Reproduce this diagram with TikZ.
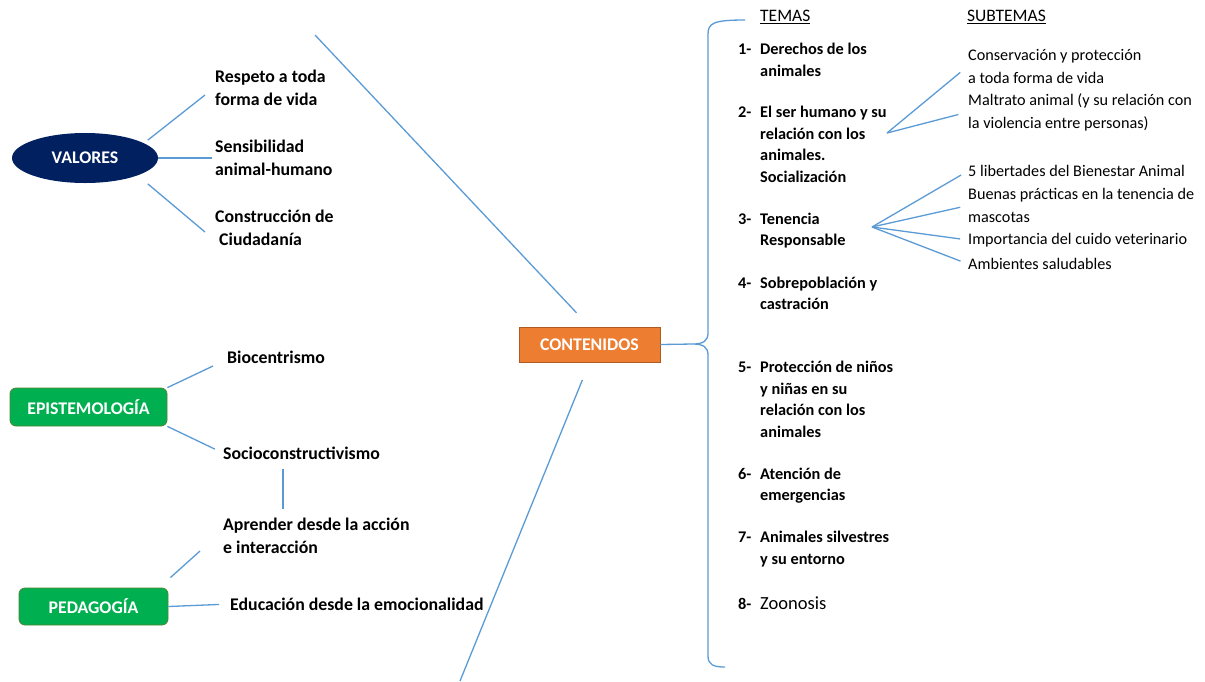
\documentclass[tikz,border=0pt]{standalone}
\usepackage{fontspec}
\setmainfont{Carlito}
\usepackage{xcolor}
\definecolor{lineblue}{RGB}{91,155,213}
\definecolor{navy}{RGB}{0,32,96}
\definecolor{epigreen}{RGB}{0,176,80}
\definecolor{greenedge}{RGB}{84,130,53}
\definecolor{orangefill}{RGB}{237,125,49}
\definecolor{orangeedge}{RGB}{174,90,33}
\usepackage{tikz}
\usetikzlibrary{shapes.geometric}
\tikzstyle{conn} = [draw=lineblue, line width=1.3pt]
\tikzstyle{idea} = [anchor=west, align=left, inner sep=0pt,
  font=\fontsize{17.8}{23}\selectfont\bfseries]
\tikzstyle{tema} = [anchor=west, inner sep=0pt,
  font=\fontsize{16.3}{21.5}\selectfont\bfseries]
\tikzstyle{subtema} = [anchor=west, align=left, inner sep=0pt,
  font=\fontsize{16.2}{23}\selectfont]
\tikzstyle{heading} = [anchor=west, inner sep=0pt,
  font=\fontsize{17.5}{20}\selectfont]
\tikzstyle{boxlabel} = [text=white, inner sep=0pt,
  font=\fontsize{17.8}{20}\selectfont\bfseries]
\newcommand{\temaitem}[2]{\begin{tabular}{@{}p{22pt}@{}l@{}}#1 & #2\end{tabular}}

\begin{document}
\begin{tikzpicture}[x=1pt, y=-1pt]
  \useasboundingbox (0,0) rectangle (1205,681);
  \fill[white] (0,0) rectangle (1205,681);
  % valores
  \node[boxlabel, ellipse, fill=navy, minimum width=146pt,
    minimum height=50pt] (val) at (85,158) {VALORES};
  \node[idea] (resp) at (215,88) {Respeto a toda\\forma de vida};
  \node[idea] (sens) at (215,158) {Sensibilidad\\animal-humano};
  \node[idea] (cons) at (215,228) {Construcción de\\\ Ciudadanía};
  \draw[conn] ([xshift=11pt]val.north east) -- ([xshift=-10pt,yshift=-7pt]resp.west);
  \draw[conn, shorten >=3pt] (val.east) -- (sens.west);
  \draw[conn] ([xshift=11pt,yshift=-8pt]val.south east) -- ([xshift=-10pt,yshift=-4pt]cons.west);
  % contenidos
  \node[boxlabel, rectangle, fill=orangefill, draw=orangeedge, line width=0.8pt,
    minimum width=141pt, minimum height=35pt] (cont) at (589.5,344.5) {CONTENIDOS};
  \coordinate (topend) at (315,35);
  \coordinate (botend) at (460,681);
  \draw[conn, shorten <=19pt] (cont.north) -- (topend);
  \draw[conn, shorten <=19pt] (cont.south) -- (botend);
  % llave
  \coordinate (tip) at (693,344);
  \draw[conn] (cont.east) -- (tip);
  \draw[conn] (745,20) .. controls (714,20) and (708,23) .. (708,34)
    -- (708,333) .. controls (708,341) and (703,344) .. (tip)
    .. controls (703,344) and (708,347) .. (708,355)
    -- (708,656) .. controls (708,665) and (714,667) .. (725,667);
  % temas
  \node[heading] (temas) at (760,17) {\underline{TEMAS}};
  \node[heading] (subtemas) at (967,17) {\underline{SUBTEMAS}};
  \node[tema] (t1) at (738,61) {\temaitem{1-}{Derechos de los\\ & animales}};
  \node[tema] (t2) at (738,145.5) {\temaitem{2-}{El ser humano y su\\ & relación con los\\ & animales.\\ & Socialización}};
  \node[tema] (t3) at (738,230.5) {\temaitem{3-}{Tenencia\\ & Responsable}};
  \node[tema] (t4) at (738,294.5) {\temaitem{4-}{Sobrepoblación y\\ & castración}};
  \node[tema] (t5) at (738,400.5) {\temaitem{5-}{Protección de niños\\ & y niñas en su\\ & relación con los\\ & animales}};
  \node[tema] (t6) at (738,485.5) {\temaitem{6-}{Atención de\\ & emergencias}};
  \node[tema] (t7) at (738,549) {\temaitem{7-}{Animales silvestres\\ & y su entorno}};
  \node[tema] (t8) at (738,605) {\temaitem{8-}{{\fontsize{18.5}{21.5}\selectfont\mdseries Zoonosis}}};
  % subtemas
  \node[subtema] (s1) at (968,66) {Conservación y protección\\a toda forma de vida};
  \node[subtema] (s2) at (968,112) {Maltrato animal (y su relación con\\la violencia entre personas)};
  \node[subtema] (s3) at (968,171) {5 libertades del Bienestar Animal};
  \node[subtema] (s4) at (968,205.5) {Buenas prácticas en la tenencia de\\mascotas};
  \node[subtema] (s5) at (968,240) {Importancia del cuido veterinario};
  \node[subtema] (s6) at (968,264) {Ambientes saludables};
  \coordinate (hub2) at (887,133);
  \coordinate (hub3) at (872,227);
  \foreach \s in {s1,s2}
    \draw[conn, shorten >=10pt] (hub2) -- (\s.west);
  \foreach \s in {s3,s4,s5,s6}
    \draw[conn, shorten >=8pt] (hub3) -- (\s.west);
  % epistemologia
  \node[boxlabel, rectangle, rounded corners=6pt, fill=epigreen, draw=greenedge,
    line width=0.8pt, minimum width=157pt, minimum height=38pt] (epi) at (88.5,407) {EPISTEMOLOGÍA};
  \node[idea] (bio) at (227,357) {Biocentrismo};
  \node[idea] (socio) at (223,453) {Socioconstructivismo};
  \node[idea] (apr) at (223,536) {Aprender desde la acción\\e interacción};
  \draw[conn] (epi.north east) -- ([xshift=-14pt,yshift=-9pt]bio.west);
  \draw[conn, shorten >=9pt] (epi.south east) -- (socio.west);
  \draw[conn, shorten <=9pt, shorten >=9pt] ([xshift=60pt]socio.south west)
    -- ([xshift=60pt]apr.north west);
  % pedagogia
  \node[boxlabel, rectangle, rounded corners=6pt, fill=epigreen, draw=greenedge,
    line width=0.8pt, minimum width=149pt, minimum height=37pt] (ped) at (93.5,606.5) {PEDAGOGÍA};
  \node[idea] (edu) at (230,604) {Educación desde la emocionalidad};
  \draw[conn] ([xshift=2pt,yshift=10pt]ped.north east) -- ([xshift=-23pt,yshift=-15pt]apr.west);
  \draw[conn, shorten >=11pt] (ped.east) -- (edu.west);
\end{tikzpicture}
\end{document}
